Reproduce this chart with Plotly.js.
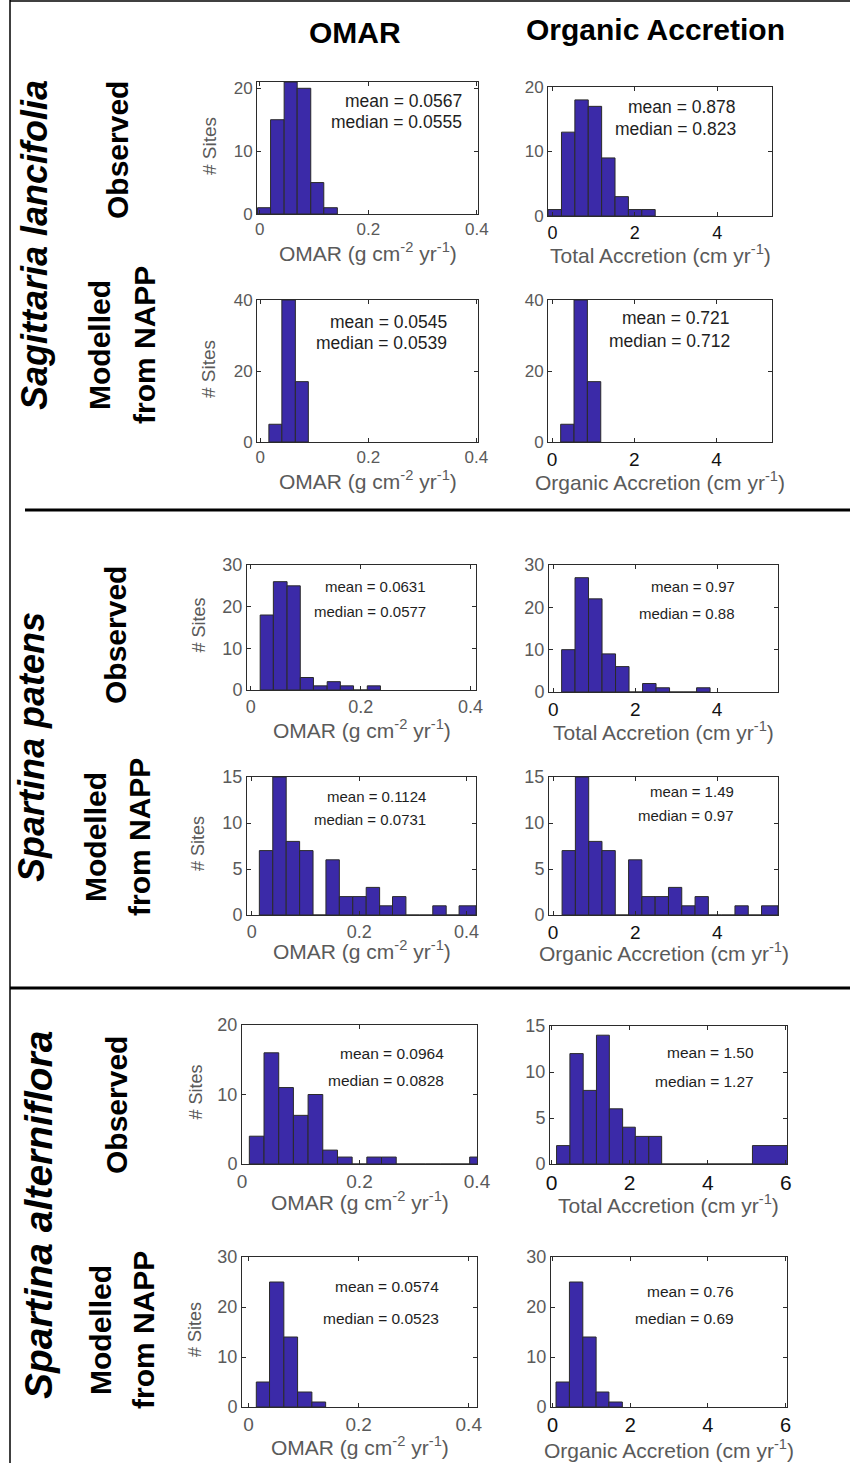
<!DOCTYPE html>
<html>
<head>
<meta charset="utf-8">
<script src="https://cdn.plot.ly/plotly-3.0.1.min.js"></script>
<style>html,body{margin:0;padding:0;background:#fff;}#chart{width:850px;height:1463px;}</style>
</head>
<body>
<div id="chart"></div>
<script>
// ---------------- DATA (bin edges and site counts) ----------------
const columnHeaders = ['OMAR', 'Organic Accretion'];
const speciesNames = ['Sagittaria lancifolia', 'Spartina patens', 'Spartina alterniflora'];
const rowKinds = ['Observed', 'Modelled', 'from NAPP'];
const omarAxisTitle = 'OMAR (g cm<sup>-2</sup> yr<sup>-1</sup>)';
const totalAccTitle = 'Total Accretion (cm yr<sup>-1</sup>)';
const orgAccTitle = 'Organic Accretion (cm yr<sup>-1</sup>)';
const yAxisTitle = '# Sites';

// Sagittaria lancifolia
const sagObsOmarEdges = [-0.004, 0.020, 0.045, 0.069, 0.094, 0.118, 0.143];
const sagObsOmarCounts = [1, 15, 21, 20, 5, 1];
const sagObsOmarStats = ['mean = 0.0567', 'median = 0.0555'];
const sagObsAccEdges = [-0.105, 0.22, 0.545, 0.87, 1.195, 1.52, 1.845, 2.17, 2.495];
const sagObsAccCounts = [1, 13, 18, 17, 9, 3, 1, 1];
const sagObsAccStats = ['mean = 0.878', 'median = 0.823'];
const sagModOmarEdges = [0.016, 0.040, 0.065, 0.089];
const sagModOmarCounts = [5, 40, 17];
const sagModOmarStats = ['mean = 0.0545', 'median = 0.0539'];
const sagModAccEdges = [0.21, 0.535, 0.86, 1.185];
const sagModAccCounts = [5, 40, 17];
const sagModAccStats = ['mean = 0.721', 'median = 0.712'];

// Spartina patens
const patObsOmarEdges = [0.017, 0.041, 0.066, 0.090, 0.114, 0.139, 0.163, 0.187, 0.212, 0.236];
const patObsOmarCounts = [18, 26, 25, 3, 1, 2, 1, 0, 1];
const patObsOmarStats = ['mean = 0.0631', 'median = 0.0577'];
const patObsAccEdges = [0.203, 0.53, 0.86, 1.19, 1.52, 1.85, 2.18, 2.51, 2.84, 3.17, 3.5, 3.83];
const patObsAccCounts = [10, 27, 22, 9, 6, 0, 2, 1, 0, 0, 1];
const patObsAccStats = ['mean = 0.97', 'median = 0.88'];
const patModOmarEdges = [0.014, 0.039, 0.064, 0.089, 0.114, 0.138, 0.163, 0.188, 0.213, 0.238, 0.262, 0.287, 0.312, 0.337, 0.362, 0.386, 0.4175];
const patModOmarCounts = [7, 15, 8, 7, 0, 6, 2, 2, 3, 1, 2, 0, 0, 1, 0, 1];
const patModOmarStats = ['mean = 0.1124', 'median = 0.0731'];
const patModAccEdges = [0.219, 0.543, 0.867, 1.191, 1.515, 1.839, 2.163, 2.487, 2.811, 3.135, 3.459, 3.783, 4.107, 4.431, 4.755, 5.079, 5.48];
const patModAccCounts = [7, 15, 8, 7, 0, 6, 2, 2, 3, 1, 2, 0, 0, 1, 0, 1];
const patModAccStats = ['mean = 1.49', 'median = 0.97'];

// Spartina alterniflora
const altObsOmarEdges = [0.0125, 0.0375, 0.0625, 0.0875, 0.1125, 0.1375, 0.1625, 0.1875, 0.2125, 0.2375, 0.2625, 0.2875, 0.3125, 0.3375, 0.3625, 0.3875, 0.4125];
const altObsOmarCounts = [4, 16, 11, 7, 10, 2, 1, 0, 1, 1, 0, 0, 0, 0, 0, 1];
const altObsOmarStats = ['mean = 0.0964', 'median = 0.0828'];
const altObsAccEdges = [0.128, 0.47, 0.81, 1.15, 1.48, 1.82, 2.145, 2.49, 2.82, 5.145, 6.1];
const altObsAccCounts = [2, 12, 8, 14, 6, 4, 3, 3, 0, 2];
const altObsAccStats = ['mean = 1.50', 'median = 1.27'];
const altModOmarEdges = [0.014, 0.038, 0.064, 0.089, 0.115, 0.140];
const altModOmarCounts = [5, 25, 14, 3, 1];
const altModOmarStats = ['mean = 0.0574', 'median = 0.0523'];
const altModAccEdges = [0.086, 0.432, 0.777, 1.12, 1.45, 1.796];
const altModAccCounts = [5, 25, 14, 3, 1];
const altModAccStats = ['mean = 0.76', 'median = 0.69'];

const omarTicks = [0, 0.2, 0.4];
const accTicks = [0, 2, 4];
const accTicksWide = [0, 2, 4, 6];

// ---------------- LAYOUT / STYLE ----------------
const W = 850, H = 1463;
const FONT = 'Liberation Sans, Arial, Helvetica, sans-serif';
const BAR_FILL = '#3b2aa8';
const AX = '#2b2b2b';
const GRAY = '#5a5a5a';
const px = v => v / W;
const py = v => 1 - v / H;

// panel geometry in pixels: [left, right, top, bottom], axis ranges, ticks, styles
const panels = [
  {e: sagObsOmarEdges, c: sagObsOmarCounts, s: sagObsOmarStats, box: [257, 478, 82, 214], xr: [-0.005, 0.402], yr: [0, 21], xt: omarTicks, dy: 10, xtitle: omarAxisTitle, ty: 252, yt: true, ytx: 209, sx: 464, sy: [101, 122], sf: 17.5, tf: 17, xtc: GRAY, xtf: 17},
  {e: sagObsAccEdges, c: sagObsAccCounts, s: sagObsAccStats, box: [548, 772, 87, 216], xr: [-0.107, 5.33], yr: [0, 20], xt: accTicks, dy: 10, xtitle: totalAccTitle, ty: 254, sx: 738, sy: [107, 129], sf: 17.5, tf: 17, xtc: '#111', xtf: 18},
  {e: sagModOmarEdges, c: sagModOmarCounts, s: sagModOmarStats, box: [257, 478, 300, 442], xr: [-0.006, 0.403], yr: [0, 40], xt: omarTicks, dy: 20, xtitle: omarAxisTitle, ty: 480, yt: true, ytx: 208, sx: 449, sy: [322, 343], sf: 17.5, tf: 17, xtc: GRAY, xtf: 17},
  {e: sagModAccEdges, c: sagModAccCounts, s: sagModAccStats, box: [548, 772, 300, 442], xr: [-0.098, 5.35], yr: [0, 40], xt: accTicks, dy: 20, xtitle: orgAccTitle, ty: 481, sx: 732, sy: [318, 341], sf: 17.5, tf: 17, xtc: '#111', xtf: 19},
  {e: patObsOmarEdges, c: patObsOmarCounts, s: patObsOmarStats, box: [247, 476, 565, 690], xr: [-0.007, 0.41], yr: [0, 30], xt: omarTicks, dy: 10, xtitle: omarAxisTitle, ty: 729, yt: true, ytx: 198, sx: 428, sy: [587, 611], sf: 15, tf: 18, xtc: GRAY, xtf: 18},
  {e: patObsAccEdges, c: patObsAccCounts, s: patObsAccStats, box: [549, 778, 565, 692], xr: [-0.106, 5.49], yr: [0, 30], xt: accTicks, dy: 10, xtitle: totalAccTitle, ty: 731, sx: 737, sy: [587, 613], sf: 15, tf: 18, xtc: '#111', xtf: 19},
  {e: patModOmarEdges, c: patModOmarCounts, s: patModOmarStats, box: [247, 476, 777, 915], xr: [-0.009, 0.4175], yr: [0, 15], xt: omarTicks, dy: 5, xtitle: omarAxisTitle, ty: 950, yt: true, ytx: 198, sx: 428, sy: [796, 819], sf: 15, tf: 18, xtc: GRAY, xtf: 18},
  {e: patModAccEdges, c: patModAccCounts, s: patModAccStats, box: [549, 778, 777, 915], xr: [-0.1, 5.48], yr: [0, 15], xt: accTicks, dy: 5, xtitle: orgAccTitle, ty: 952, sx: 736, sy: [791, 815], sf: 15, tf: 18, xtc: '#111', xtf: 19},
  {e: altObsOmarEdges, c: altObsOmarCounts, s: altObsOmarStats, box: [242, 477, 1025, 1164], xr: [0, 0.4], yr: [0, 20], xt: omarTicks, dy: 10, xtitle: omarAxisTitle, ty: 1201, yt: true, ytx: 195, sx: 446, sy: [1053, 1080], sf: 15.5, tf: 18, xtc: GRAY, xtf: 19},
  {e: altObsAccEdges, c: altObsAccCounts, s: altObsAccStats, box: [550, 787, 1026, 1164], xr: [-0.04, 6.03], yr: [0, 15], xt: accTicksWide, dy: 5, xtitle: totalAccTitle, ty: 1204, sx: 756, sy: [1052, 1081], sf: 15.5, tf: 18, xtc: '#111', xtf: 21},
  {e: altModOmarEdges, c: altModOmarCounts, s: altModOmarStats, box: [242, 477, 1257, 1407], xr: [-0.012, 0.415], yr: [0, 30], xt: omarTicks, dy: 10, xtitle: omarAxisTitle, ty: 1446, yt: true, ytx: 195, sx: 441, sy: [1286, 1318], sf: 15.5, tf: 18, xtc: GRAY, xtf: 19},
  {e: altModAccEdges, c: altModAccCounts, s: altModAccStats, box: [551, 787, 1257, 1407], xr: [-0.043, 6.04], yr: [0, 30], xt: accTicksWide, dy: 10, xtitle: orgAccTitle, ty: 1449, sx: 736, sy: [1291, 1318], sf: 15.5, tf: 18, xtc: '#111', xtf: 20}
];

const traces = [];
const layout = {
  width: W, height: H,
  margin: {l: 0, r: 0, t: 0, b: 0},
  paper_bgcolor: '#fff', plot_bgcolor: '#fff',
  showlegend: false,
  bargap: 0,
  font: {family: FONT, color: '#222', size: 14},
  annotations: [],
  shapes: []
};

panels.forEach((p, i) => {
  const n = i + 1;
  const mids = p.c.map((_, k) => (p.e[k] + p.e[k + 1]) / 2);
  const widths = p.c.map((_, k) => p.e[k + 1] - p.e[k]);
  traces.push({
    type: 'bar', x: mids, y: p.c, width: widths,
    xaxis: 'x' + n, yaxis: 'y' + n,
    marker: {color: BAR_FILL, line: {color: '#2a2a2a', width: 1}},
    hoverinfo: 'skip'
  });
  const [l, r, t, b] = p.box;
  layout['xaxis' + n] = {
    domain: [px(l), px(r)], anchor: 'y' + n, range: p.xr,
    tickvals: p.xt, ticks: 'inside', ticklen: 4, tickcolor: AX, tickwidth: 1,
    showline: true, linecolor: AX, linewidth: 1, mirror: 'ticks',
    showgrid: false, zeroline: false, fixedrange: true,
    tickfont: {family: FONT, size: p.xtf, color: p.xtc}
  };
  layout['yaxis' + n] = {
    domain: [py(b), py(t)], anchor: 'x' + n, range: p.yr,
    dtick: p.dy, tick0: 0, ticks: 'inside', ticklen: 4, tickcolor: AX, tickwidth: 1,
    showline: true, linecolor: AX, linewidth: 1, mirror: 'ticks',
    showgrid: false, zeroline: false, fixedrange: true,
    tickfont: {family: FONT, size: p.tf, color: GRAY}
  };
  // axis titles
  layout.annotations.push({
    xref: 'paper', yref: 'paper', x: px((l + r) / 2), y: py(p.ty),
    xanchor: 'center', yanchor: 'middle', showarrow: false,
    text: p.xtitle, font: {family: FONT, size: 21, color: GRAY}
  });
  if (p.yt) {
    layout.annotations.push({
      xref: 'paper', yref: 'paper', x: px(p.ytx), y: py((t + b) / 2 - 2),
      xanchor: 'center', yanchor: 'middle', showarrow: false, textangle: -90,
      text: yAxisTitle, font: {family: FONT, size: n <= 3 ? 19 : 18, color: GRAY}
    });
  }
  // stats
  p.s.forEach((txt, k) => {
    layout.annotations.push({
      xref: 'paper', yref: 'paper', x: px(p.sx), y: py(p.sy[k]),
      xanchor: 'right', yanchor: 'middle', showarrow: false,
      text: txt, font: {family: FONT, size: p.sf, color: '#1e1e1e'}
    });
  });
});

// column headers
[[columnHeaders[0], 355, 32], [columnHeaders[1], 655, 30]].forEach(([txt, x, y]) => {
  layout.annotations.push({
    xref: 'paper', yref: 'paper', x: px(x), y: py(y), xanchor: 'center', yanchor: 'middle',
    showarrow: false, text: '<b>' + txt + '</b>', font: {family: FONT, size: 30, color: '#000'}
  });
});

// species labels (bold italic, rotated)
[[speciesNames[0], 35, 245, 36], [speciesNames[1], 31, 747, 36], [speciesNames[2], 38, 1215, 39]].forEach(([txt, x, y, sz]) => {
  layout.annotations.push({
    xref: 'paper', yref: 'paper', x: px(x), y: py(y), xanchor: 'center', yanchor: 'middle',
    showarrow: false, textangle: -90, text: '<b><i>' + txt + '</i></b>',
    font: {family: FONT, size: sz, color: '#000'}
  });
});

// row labels
const rowLabels = [
  [rowKinds[0], 118, 150], [rowKinds[1], 100, 345], [rowKinds[2], 145, 345],
  [rowKinds[0], 115, 635], [rowKinds[1], 95, 837], [rowKinds[2], 139, 837],
  [rowKinds[0], 116, 1105], [rowKinds[1], 100, 1330], [rowKinds[2], 143, 1330]
];
rowLabels.forEach(([txt, x, y]) => {
  layout.annotations.push({
    xref: 'paper', yref: 'paper', x: px(x), y: py(y), xanchor: 'center', yanchor: 'middle',
    showarrow: false, textangle: -90, text: '<b>' + txt + '</b>',
    font: {family: FONT, size: 30, color: '#000'}
  });
});

// divider lines and frame
layout.shapes.push(
  {type: 'line', xref: 'paper', yref: 'paper', x0: px(25), x1: 1, y0: py(510), y1: py(510), line: {color: '#000', width: 3}},
  {type: 'line', xref: 'paper', yref: 'paper', x0: px(10), x1: 1, y0: py(988), y1: py(988), line: {color: '#000', width: 3}},
  {type: 'line', xref: 'paper', yref: 'paper', x0: px(10), x1: px(10), y0: 0, y1: 1, line: {color: '#000', width: 1.5}},
  {type: 'line', xref: 'paper', yref: 'paper', x0: px(10), x1: 1, y0: py(1), y1: py(1), line: {color: '#000', width: 1.5}}
);

Plotly.newPlot('chart', traces, layout, {staticPlot: true, displayModeBar: false});
</script>
</body>
</html>
